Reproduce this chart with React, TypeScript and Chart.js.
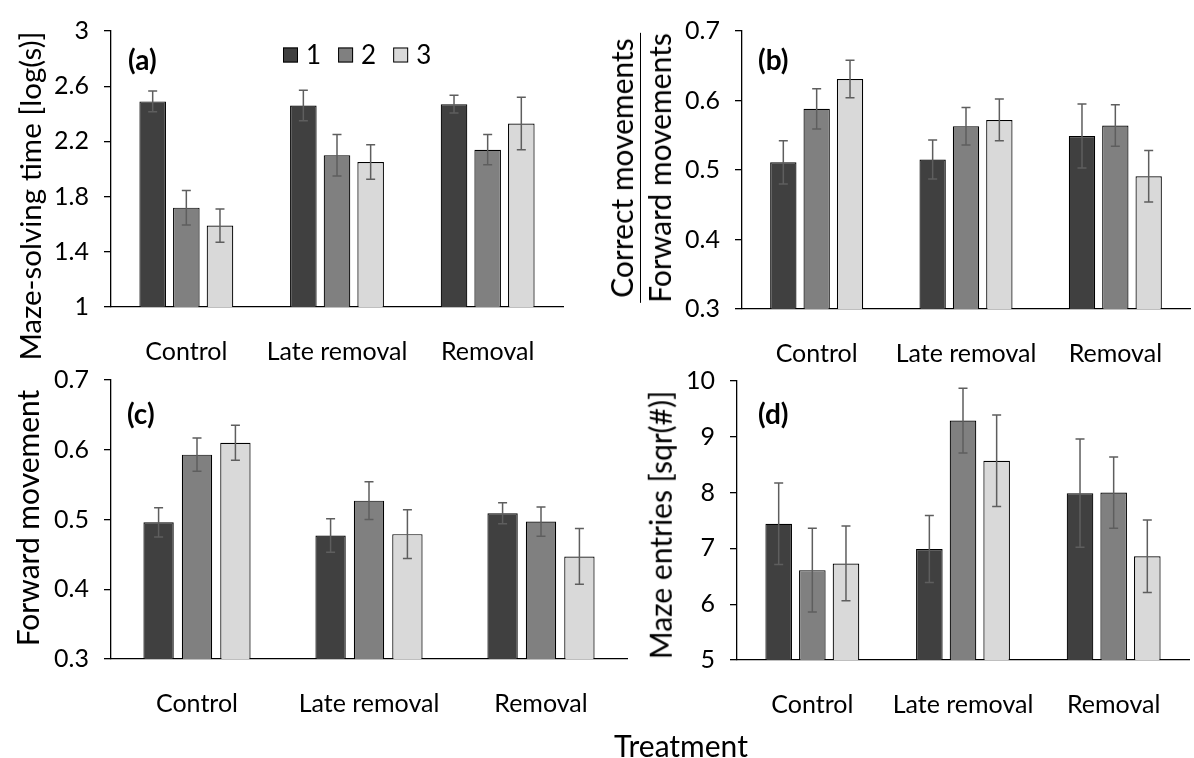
import React, { useEffect, useRef } from 'react';
import { Chart, registerables } from 'chart.js';

Chart.register(...registerables);

// ---------- data ----------
const categories = ['Control', 'Late removal', 'Removal'];
const seriesLabels = ['1', '2', '3'];

// (a) Maze-solving time [log(s)]
const mazeTime1 = [2.49, 2.46, 2.47];
const mazeTime2 = [1.72, 2.1, 2.14];
const mazeTime3 = [1.59, 2.05, 2.33];
const mazeTimeErr1 = [0.075, 0.11, 0.065];
const mazeTimeErr2 = [0.125, 0.15, 0.11];
const mazeTimeErr3 = [0.12, 0.125, 0.19];

// (b) Correct movements / Forward movements
const correct1 = [0.511, 0.515, 0.549];
const correct2 = [0.588, 0.563, 0.564];
const correct3 = [0.631, 0.572, 0.491];
const correctErr1 = [0.031, 0.028, 0.046];
const correctErr2 = [0.029, 0.027, 0.03];
const correctErr3 = [0.027, 0.03, 0.037];

// (c) Forward movement
const forward1 = [0.496, 0.477, 0.509];
const forward2 = [0.593, 0.527, 0.497];
const forward3 = [0.61, 0.479, 0.447];
const forwardErr1 = [0.021, 0.024, 0.015];
const forwardErr2 = [0.024, 0.027, 0.021];
const forwardErr3 = [0.025, 0.035, 0.04];

// (d) Maze entries [sqr(#)]
const entries1 = [7.44, 6.99, 7.99];
const entries2 = [6.61, 9.29, 8.0];
const entries3 = [6.73, 8.57, 6.86];
const entriesErr1 = [0.73, 0.6, 0.97];
const entriesErr2 = [0.75, 0.58, 0.64];
const entriesErr3 = [0.67, 0.82, 0.65];

// tick labels
const ticksA = [1, 1.4, 1.8, 2.2, 2.6, 3];
const ticksB = [0.3, 0.4, 0.5, 0.6, 0.7];
const ticksC = [0.3, 0.4, 0.5, 0.6, 0.7];
const ticksD = [5, 6, 7, 8, 9, 10];

// ---------- styling ----------
const W = 1194;
const H = 758;
const FONT = 'Lato';
const barColors = ['#404040', '#808080', '#d9d9d9'];

const errorBarPlugin = {
  id: 'errorBars',
  afterDatasetsDraw(chart: any) {
    const ctx = chart.ctx;
    const yScale = chart.scales.y;
    const cap = 4.5;
    ctx.save();
    ctx.strokeStyle = '#5e5e5e';
    ctx.lineWidth = 1.5;
    chart.data.datasets.forEach((ds: any, i: number) => {
      const meta = chart.getDatasetMeta(i);
      const errs = ds.errors || [];
      meta.data.forEach((bar: any, j: number) => {
        const v = ds.data[j];
        const e = errs[j];
        if (e == null) return;
        const x = bar.x;
        const yt = yScale.getPixelForValue(v + e);
        const yb = yScale.getPixelForValue(v - e);
        ctx.beginPath();
        ctx.moveTo(x, yt);
        ctx.lineTo(x, yb);
        ctx.moveTo(x - cap, yt);
        ctx.lineTo(x + cap, yt);
        ctx.moveTo(x - cap, yb);
        ctx.lineTo(x + cap, yb);
        ctx.stroke();
      });
    });
    ctx.restore();
  },
};

const boxLegendPlugin = {
  id: 'boxLegend',
  afterDraw(chart: any, _args: any, opts: any) {
    if (!opts || !opts.display) return;
    const ctx = chart.ctx;
    const box = 15;
    let x = chart.chartArea.left + opts.offsetX;
    const yMid = chart.chartArea.top + opts.offsetY;
    ctx.save();
    ctx.font = `26px ${FONT}`;
    ctx.textBaseline = 'middle';
    ctx.textAlign = 'left';
    chart.data.datasets.forEach((ds: any) => {
      ctx.fillStyle = ds.backgroundColor;
      ctx.fillRect(x, yMid - box / 2, box, box);
      ctx.strokeStyle = '#000';
      ctx.lineWidth = 1;
      ctx.strokeRect(x + 0.5, yMid - box / 2 + 0.5, box - 1, box - 1);
      ctx.fillStyle = '#000';
      const tx = x + box + 8;
      ctx.fillText(ds.label, tx, yMid + 1);
      x = tx + ctx.measureText(ds.label).width + 17;
    });
    ctx.restore();
  },
};

type Area = { left: number; top: number; right: number; bottom: number };

function makeConfig(
  series: number[][],
  errors: number[][],
  ticks: number[],
  area: Area,
  legend: boolean
): any {
  return {
    type: 'bar',
    data: {
      labels: categories,
      datasets: series.map((s, i) => ({
        label: seriesLabels[i],
        data: s,
        errors: errors[i],
        backgroundColor: barColors[i],
        borderColor: '#000',
        borderWidth: 1.2,
        categoryPercentage: 0.67,
        barPercentage: 0.79,
      })),
    },
    options: {
      responsive: false,
      maintainAspectRatio: false,
      animation: false,
      events: [],
      layout: {
        padding: { left: 0, top: area.top, right: W - area.right, bottom: 0 },
      },
      plugins: {
        legend: { display: false },
        tooltip: { enabled: false },
        boxLegend: { display: legend, offsetX: 172, offsetY: 24 },
      },
      scales: {
        x: {
          grid: { display: false },
          border: { display: true, color: '#000', width: 1.3 },
          ticks: {
            color: '#000',
            font: { family: FONT, size: 25 },
            padding: 22,
            maxRotation: 0,
            autoSkip: false,
          },
          afterFit: (s: any) => {
            s.height = H - area.bottom;
          },
        },
        y: {
          min: ticks[0],
          max: ticks[ticks.length - 1],
          afterBuildTicks: (s: any) => {
            s.ticks = ticks.map((v) => ({ value: v }));
          },
          grid: {
            display: true,
            drawOnChartArea: false,
            drawTicks: true,
            tickLength: 7,
            color: '#000',
            lineWidth: 1.3,
          },
          border: { display: true, color: '#000', width: 1.3 },
          ticks: {
            color: '#000',
            font: { family: FONT, size: 25 },
            padding: 15,
            callback: (v: any) => String(v),
          },
          afterFit: (s: any) => {
            s.width = area.left;
          },
        },
      },
    },
    plugins: [errorBarPlugin, boxLegendPlugin],
  };
}

const rotated = (cx: number, cy: number, size: number): React.CSSProperties => ({
  position: 'absolute',
  left: cx,
  top: cy,
  transform: 'translate(-50%, -50%) rotate(-90deg)',
  whiteSpace: 'nowrap',
  fontFamily: FONT,
  fontSize: size,
  lineHeight: 1.15,
  color: '#000',
});

const panelLabel = (x: number, cy: number): React.CSSProperties => ({
  position: 'absolute',
  left: x,
  top: cy,
  transform: 'translateY(-50%)',
  fontFamily: FONT,
  fontWeight: 'bold',
  fontSize: 28,
  lineHeight: 1,
  color: '#000',
});

export default function App() {
  const refA = useRef<HTMLCanvasElement>(null);
  const refB = useRef<HTMLCanvasElement>(null);
  const refC = useRef<HTMLCanvasElement>(null);
  const refD = useRef<HTMLCanvasElement>(null);

  useEffect(() => {
    const charts: Chart[] = [];
    charts.push(
      new Chart(
        refA.current as HTMLCanvasElement,
        makeConfig(
          [mazeTime1, mazeTime2, mazeTime3],
          [mazeTimeErr1, mazeTimeErr2, mazeTimeErr3],
          ticksA,
          { left: 111, top: 31, right: 563, bottom: 307 },
          true
        )
      )
    );
    charts.push(
      new Chart(
        refB.current as HTMLCanvasElement,
        makeConfig(
          [correct1, correct2, correct3],
          [correctErr1, correctErr2, correctErr3],
          ticksB,
          { left: 742, top: 31, right: 1190, bottom: 309 },
          false
        )
      )
    );
    charts.push(
      new Chart(
        refC.current as HTMLCanvasElement,
        makeConfig(
          [forward1, forward2, forward3],
          [forwardErr1, forwardErr2, forwardErr3],
          ticksC,
          { left: 111, top: 380, right: 627, bottom: 659 },
          false
        )
      )
    );
    charts.push(
      new Chart(
        refD.current as HTMLCanvasElement,
        makeConfig(
          [entries1, entries2, entries3],
          [entriesErr1, entriesErr2, entriesErr3],
          ticksD,
          { left: 737, top: 381, right: 1189, bottom: 660 },
          false
        )
      )
    );
    return () => charts.forEach((c) => c.destroy());
  }, []);

  const canvasStyle: React.CSSProperties = { position: 'absolute', left: 0, top: 0 };

  return (
    <div
      style={{
        position: 'absolute',
        left: 0,
        top: 0,
        width: W,
        height: H,
        background: '#fff',
        overflow: 'hidden',
      }}
    >
      <canvas ref={refA} width={W} height={H} style={canvasStyle} />
      <canvas ref={refB} width={W} height={H} style={canvasStyle} />
      <canvas ref={refC} width={W} height={H} style={canvasStyle} />
      <canvas ref={refD} width={W} height={H} style={canvasStyle} />

      <div style={rotated(30, 196, 29.5)}>Maze-solving time [log(s)]</div>
      <div style={{ ...rotated(640, 168, 30), textAlign: 'center' }}>
        <div style={{ borderBottom: '1.5px solid #000', paddingBottom: 1 }}>Correct movements</div>
        <div style={{ paddingTop: 1 }}>Forward movements</div>
      </div>
      <div style={rotated(27, 518, 30)}>Forward movement</div>
      <div style={rotated(660, 525, 30)}>Maze entries [sqr(#)]</div>

      <div style={panelLabel(128, 59)}>(a)</div>
      <div style={panelLabel(758, 59)}>(b)</div>
      <div style={panelLabel(127, 413)}>(c)</div>
      <div style={panelLabel(758, 413)}>(d)</div>

      <div
        style={{
          position: 'absolute',
          left: 681,
          top: 745,
          transform: 'translate(-50%, -50%)',
          fontFamily: FONT,
          fontSize: 30,
          lineHeight: 1,
          color: '#000',
          whiteSpace: 'nowrap',
        }}
      >
        Treatment
      </div>
    </div>
  );
}
